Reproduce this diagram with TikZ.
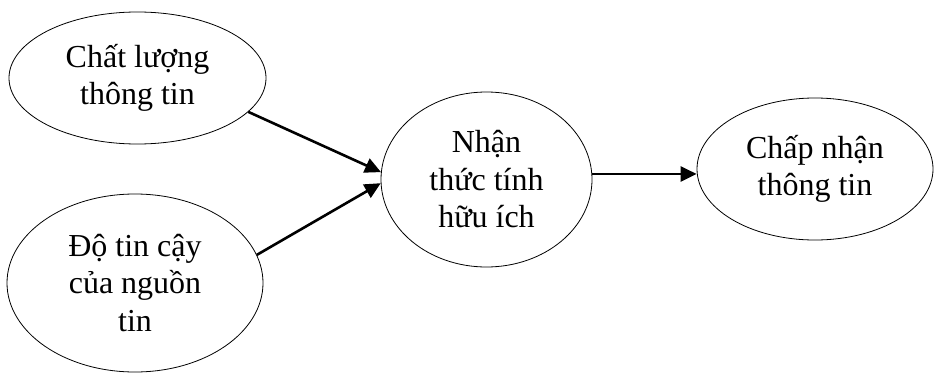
\documentclass[tikz,border=0pt]{standalone}
\usepackage{fontspec}
\setmainfont{Liberation Serif}
\usetikzlibrary{shapes.geometric,arrows.meta}
\begin{document}
\begin{tikzpicture}[x=1pt,y=-1pt,
  oval/.style={draw=black, line width=0.8pt, ellipse, inner sep=0pt, align=center,
    font=\fontsize{32}{37.5}\selectfont},
  link/.style={line width=2.6pt, -{Triangle[length=16pt,width=15pt]}}]
\useasboundingbox (0,0) rectangle (934,372);
\node[oval, minimum width=257pt, minimum height=132pt] (e1) at (137.5,78) {Chất lượng\\thông tin};
\node[oval, minimum width=256pt, minimum height=178pt] (e2) at (135,283) {Độ tin cậy\\của nguồn\\tin};
\node[oval, minimum width=211pt, minimum height=175pt] (e3) at (486.5,179.5) {Nhận\\thức tính\\hữu ích};
\node[oval, minimum width=236pt, minimum height=142pt] (e4) at (815,169) {Chấp nhận\\thông tin};
\draw[link] (e1.-17) -- (e3.176);
\draw[link] (e2.13) -- (e3.182.5);
\draw[link] (e3.3.5) -- (e3.3.5 -| e4.west);
\end{tikzpicture}
\end{document}
